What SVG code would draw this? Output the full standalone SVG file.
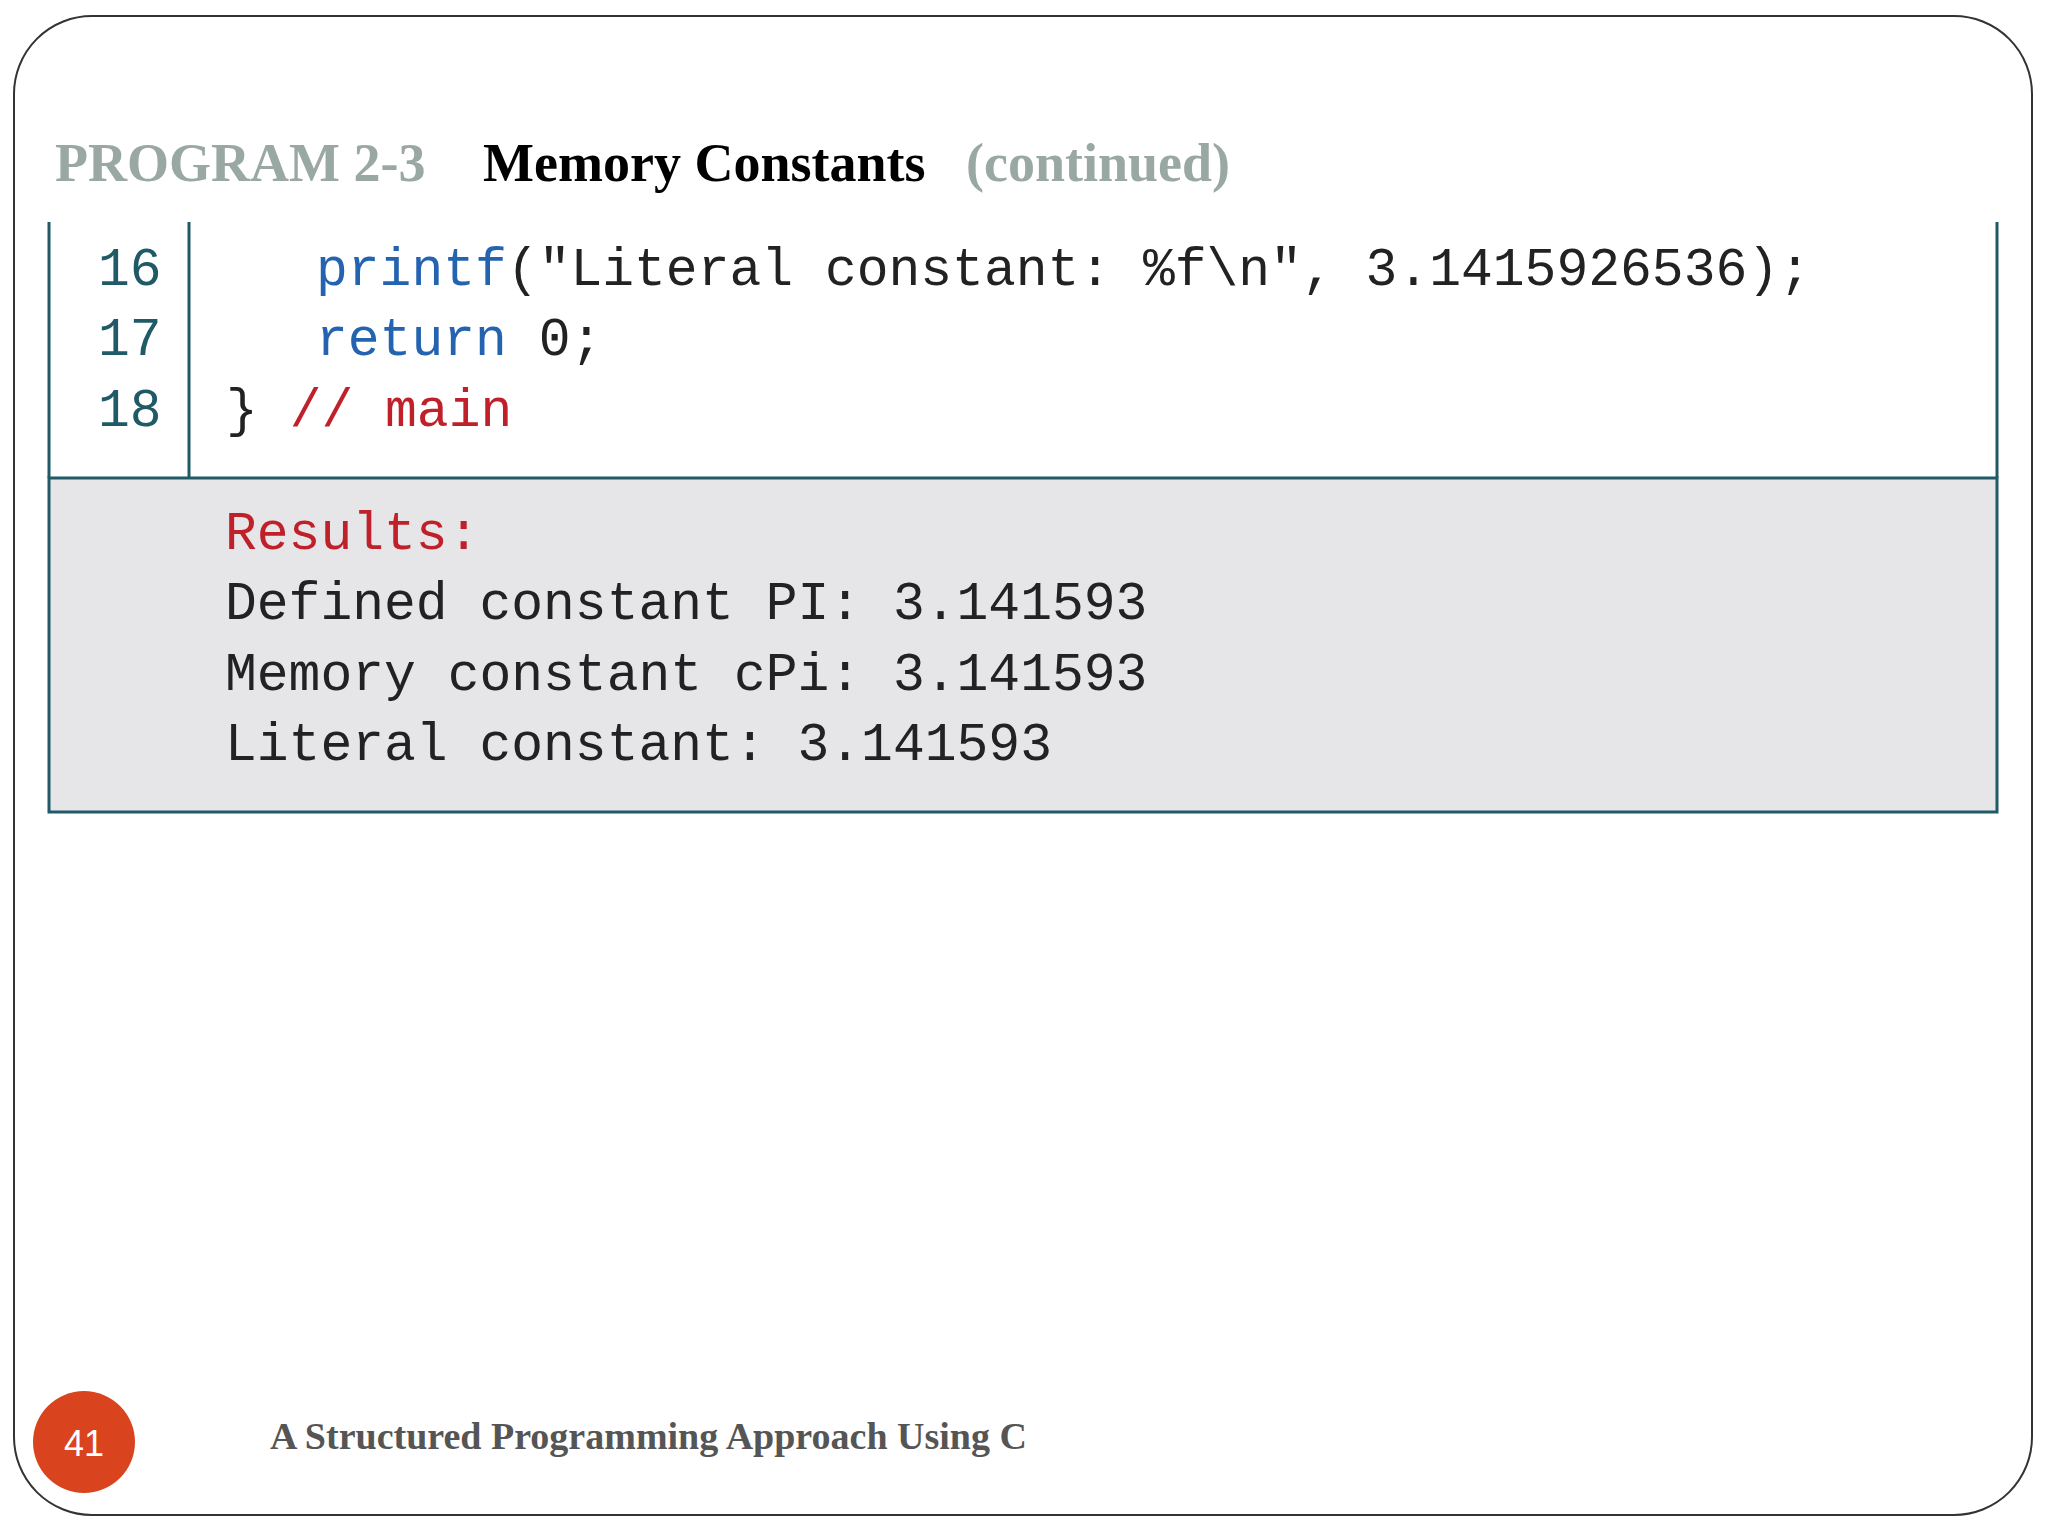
<svg xmlns="http://www.w3.org/2000/svg" width="2048" height="1536" viewBox="0 0 2048 1536">
<style>
.mono{font-family:"Liberation Mono","DejaVu Sans Mono",monospace;font-size:53px}
.num{fill:#1f5a66}.kw{fill:#2463b0}.cm{fill:#c0202a}.tx{fill:#222}
.ttl{font-family:"Liberation Serif",serif;font-weight:bold;font-size:54px}
</style>
<rect width="2048" height="1536" fill="#fff"/>
<rect x="14" y="16" width="2018" height="1499" rx="78" fill="none" stroke="#333" stroke-width="2"/>
<g id="title">
<text class="ttl" y="181"><tspan x="55" fill="#9aa8a4">PROGRAM 2-3</tspan><tspan x="483" fill="#000">Memory Constants</tspan><tspan x="966" fill="#9aa8a4">(continued)</tspan></text>
</g>
<g id="code">
<rect x="480" y="0" width="0" height="0"/>
<path d="M49 222 V478 M189 222 V478 M1997 222 V478" stroke="#1f5a66" stroke-width="3" fill="none"/>
<text class="mono num" x="98" y="285">16</text>
<text class="mono num" x="98" y="355">17</text>
<text class="mono num" x="98" y="426">18</text>
<text class="mono tx" x="316" y="285"><tspan class="kw">printf</tspan>("Literal constant:    %f\n", 3.1415926536);</text>
<text class="mono tx" x="316" y="355"><tspan class="kw">return</tspan> 0;</text>
<text class="mono tx" x="226" y="426">}  <tspan class="cm">// main</tspan></text>
</g>
<g id="results">
<rect x="49" y="478" width="1948" height="334" fill="#e6e5e8" stroke="#1f5a66" stroke-width="3"/>
<text class="mono cm" x="225" y="549">Results:</text>
<text class="mono tx" x="225" y="619">Defined constant PI:  3.141593</text>
<text class="mono tx" x="225" y="690">Memory constant cPi:  3.141593</text>
<text class="mono tx" x="225" y="760">Literal constant:     3.141593</text>
</g>
<g id="footer">
<circle cx="84" cy="1442" r="51" fill="#d9441f"/>
<text x="84" y="1456" text-anchor="middle" font-family="Liberation Sans,sans-serif" font-size="36" fill="#fff">41</text>
<text x="270" y="1449" font-family="Liberation Serif,serif" font-weight="bold" font-size="38" fill="#555">A Structured Programming Approach Using C</text>
</g>
</svg>
